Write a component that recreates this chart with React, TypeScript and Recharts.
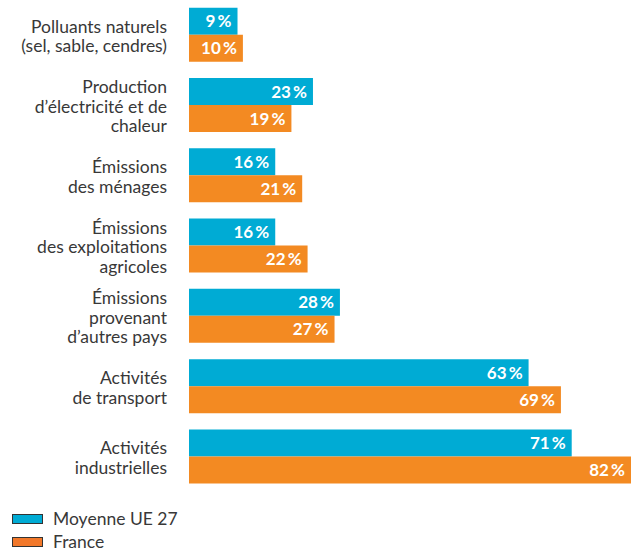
import React from 'react';
import { BarChart, Bar, XAxis, YAxis, LabelList } from 'recharts';

const categories: string[][] = [
  ['Polluants naturels', '(sel, sable, cendres)'],
  ['Production', 'd’électricité et de', 'chaleur'],
  ['Émissions', 'des ménages'],
  ['Émissions', 'des exploitations', 'agricoles'],
  ['Émissions', 'provenant', 'd’autres pays'],
  ['Activités', 'de transport'],
  ['Activités', 'industrielles'],
];
const ue27 = [9, 23, 16, 16, 28, 63, 71];
const france = [10, 19, 21, 22, 27, 69, 82];
const seriesNames = ['Moyenne UE 27', 'France'];

const CYAN = '#00abd4';
const ORANGE = '#f38a22';
const FONT = 'Lato, "Open Sans", sans-serif';

const data = categories.map((c, i) => ({ key: String(i), ue27: ue27[i], france: france[i] }));

const CategoryTick = (props: any) => {
  const { x, y, payload } = props;
  const lines = categories[Number(payload.value)];
  const lh = 19.5;
  const start = y + 1 - ((lines.length - 1) * lh) / 2;
  return (
    <text x={x} y={start} textAnchor="end" fill="#383838" fontSize={17.5} fontFamily={FONT}>
      {lines.map((l, i) => (
        <tspan key={i} x={x} y={start + i * lh} dy="0.36em">{l}</tspan>
      ))}
    </text>
  );
};

const ValueLabel = (props: any) => {
  const { x, y, width, height, value } = props;
  return (
    <text x={x + width - 6} y={y + height / 2} dy="0.36em" textAnchor="end" fill="#fff"
      fontSize={17} fontWeight={700} fontFamily={FONT}>
      {value}{'\u2009%'}
    </text>
  );
};

// legend is plain html under the plot so it doesn't eat plot height
const LegendBox = () => (
  <div style={{ position: 'absolute', left: 0, top: 511, fontFamily: FONT, fontSize: 17.5, color: '#383838', lineHeight: '16px' }}>
    {seriesNames.map((name, i) => (
      <div key={name} style={{ display: 'flex', alignItems: 'center', height: 16, marginBottom: 7 }}>
        <span style={{ display: 'inline-block', width: 29, height: 8, background: i === 0 ? CYAN : '#f2782a', border: '1px solid #333', marginLeft: 12, marginRight: 10 }} />
        {name}
      </div>
    ))}
  </div>
);

export default function App() {
  return (
    <div style={{ position: 'absolute', left: 0, top: 0, width: 631, height: 553 }}>
      <BarChart width={631} height={492} data={data} layout="vertical"
        margin={{ top: 0, right: 0, bottom: 0, left: 0 }} barCategoryGap="11%" barGap={0}>
        <XAxis type="number" domain={[0, 82]} hide />
        <YAxis type="category" dataKey="key" width={189} axisLine={false} tickLine={false}
          tick={CategoryTick} tickMargin={16} interval={0} />
        <Bar dataKey="ue27" name={seriesNames[0]} fill={CYAN} isAnimationActive={false}>
          <LabelList dataKey="ue27" content={ValueLabel} />
        </Bar>
        <Bar dataKey="france" name={seriesNames[1]} fill={ORANGE} isAnimationActive={false}>
          <LabelList dataKey="france" content={ValueLabel} />
        </Bar>
      </BarChart>
      <LegendBox />
    </div>
  );
}
